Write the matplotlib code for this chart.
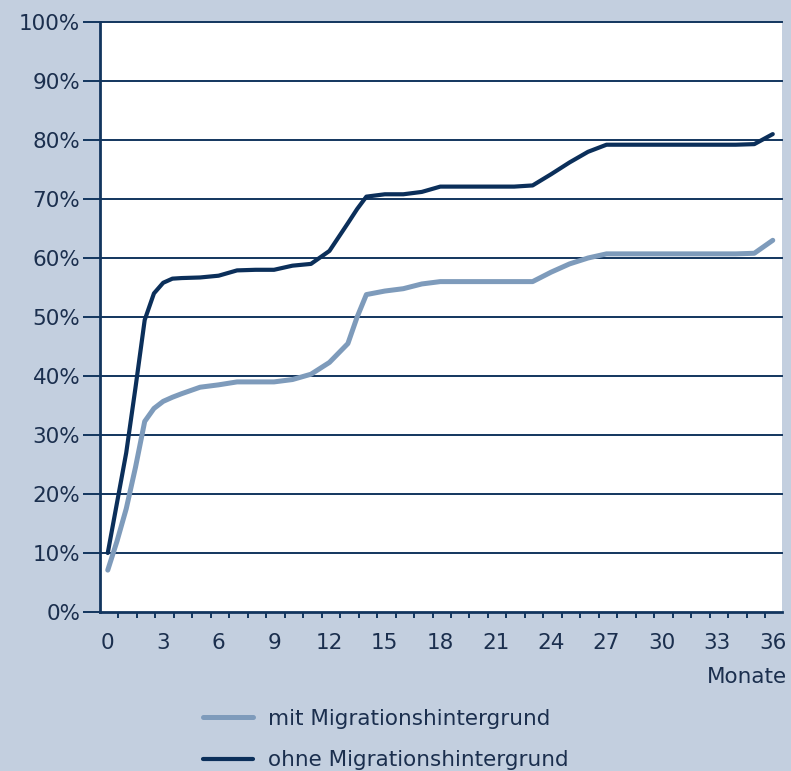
import numpy as np
import matplotlib
matplotlib.use("Agg")
import matplotlib.pyplot as plt
from matplotlib.ticker import FixedLocator, FuncFormatter

# months since start (half-month steps where the curves climb fast)
months = [0, 0.5, 1, 1.5, 2, 2.5, 3, 3.5, 4, 5, 6, 7, 8, 9, 10, 11, 12, 13, 13.5, 14,
          15, 16, 17, 18, 19, 20, 21, 22, 23, 24, 25, 26, 27, 28, 29, 30, 31, 32,
          33, 34, 35, 36]

# share in percent
mit_migration = [7.1, 12.0, 17.5, 24.5, 32.3, 34.5, 35.7, 36.4, 37.0, 38.1, 38.5, 39.0,
                 39.0, 39.0, 39.4, 40.3, 42.3, 45.5, 50.0, 53.8, 54.4, 54.8, 55.6, 56.0,
                 56.0, 56.0, 56.0, 56.0, 56.0, 57.6, 59.0, 60.0, 60.7, 60.7, 60.7, 60.7,
                 60.7, 60.7, 60.7, 60.7, 60.8, 63.0]
ohne_migration = [10.0, 18.5, 27.0, 38.0, 49.5, 54.0, 55.8, 56.5, 56.6, 56.7, 57.0, 57.9,
                  58.0, 58.0, 58.7, 59.0, 61.2, 65.9, 68.3, 70.4, 70.8, 70.8, 71.2, 72.1,
                  72.1, 72.1, 72.1, 72.1, 72.3, 74.2, 76.2, 78.0, 79.2, 79.2, 79.2, 79.2,
                  79.2, 79.2, 79.2, 79.2, 79.3, 81.0]

series_labels = ["mit Migrationshintergrund", "ohne Migrationshintergrund"]
x_ticks = list(range(0, 37, 3))
y_ticks = list(range(0, 101, 10))

BG = "#c3cfdf"
NAVY = "#12355e"
TEXT = "#1b2f4e"
LIGHT = "#7e9bbb"
DARK = "#0b2f5a"

plt.rcParams["font.family"] = ["DejaVu Sans"]

fig = plt.figure(figsize=(7.91, 7.71), dpi=100, facecolor=BG)
ax = fig.add_axes([100 / 791, 1 - 612 / 771, 682 / 791, 590 / 771])
ax.set_facecolor("white")

l1, = ax.plot(months, mit_migration, color=LIGHT, lw=3.6, solid_capstyle="round",
              solid_joinstyle="round", zorder=3)
l2, = ax.plot(months, ohne_migration, color=DARK, lw=3.0, solid_capstyle="round",
              solid_joinstyle="round", zorder=4)

ax.set_xlim(-0.42, 36.5)
ax.set_ylim(0, 100)

# horizontal grid
for y in y_ticks[1:]:
    ax.axhline(y, color=NAVY, lw=1.4, zorder=2, clip_on=False)

ax.yaxis.set_major_locator(FixedLocator(y_ticks))
ax.yaxis.set_major_formatter(FuncFormatter(lambda v, p: f"{int(v)}%"))
ax.tick_params(axis="y", which="major", direction="out", length=12.2, width=1.4,
               color=NAVY, labelsize=15.5, labelcolor=TEXT, pad=2)

ax.xaxis.set_major_locator(FixedLocator(x_ticks))
ax.xaxis.set_minor_locator(FixedLocator(np.arange(37) - 0.42 + 1))
ax.tick_params(axis="x", which="major", length=0, labelsize=15.5, labelcolor=TEXT, pad=15)
ax.tick_params(axis="x", which="minor", direction="out", length=4.5, width=1.4, color=NAVY)

for side in ["top", "right"]:
    ax.spines[side].set_visible(False)
for side in ["left", "bottom"]:
    ax.spines[side].set_color(NAVY)
    ax.spines[side].set_linewidth(2.0)

fig.text(787 / 791, 1 - 677 / 771, "Monate", ha="right", va="center",
         fontsize=15.5, color=TEXT)

fig.legend([l1, l2], series_labels, loc="upper left",
           bbox_to_anchor=(203 / 791, 1 - 709 / 771), frameon=False,
           fontsize=15.5, handlelength=2.3, handletextpad=0.7, labelspacing=0.98,
           borderpad=0, borderaxespad=0, labelcolor=TEXT)

fig.savefig("out.png", dpi=100, facecolor=BG)
